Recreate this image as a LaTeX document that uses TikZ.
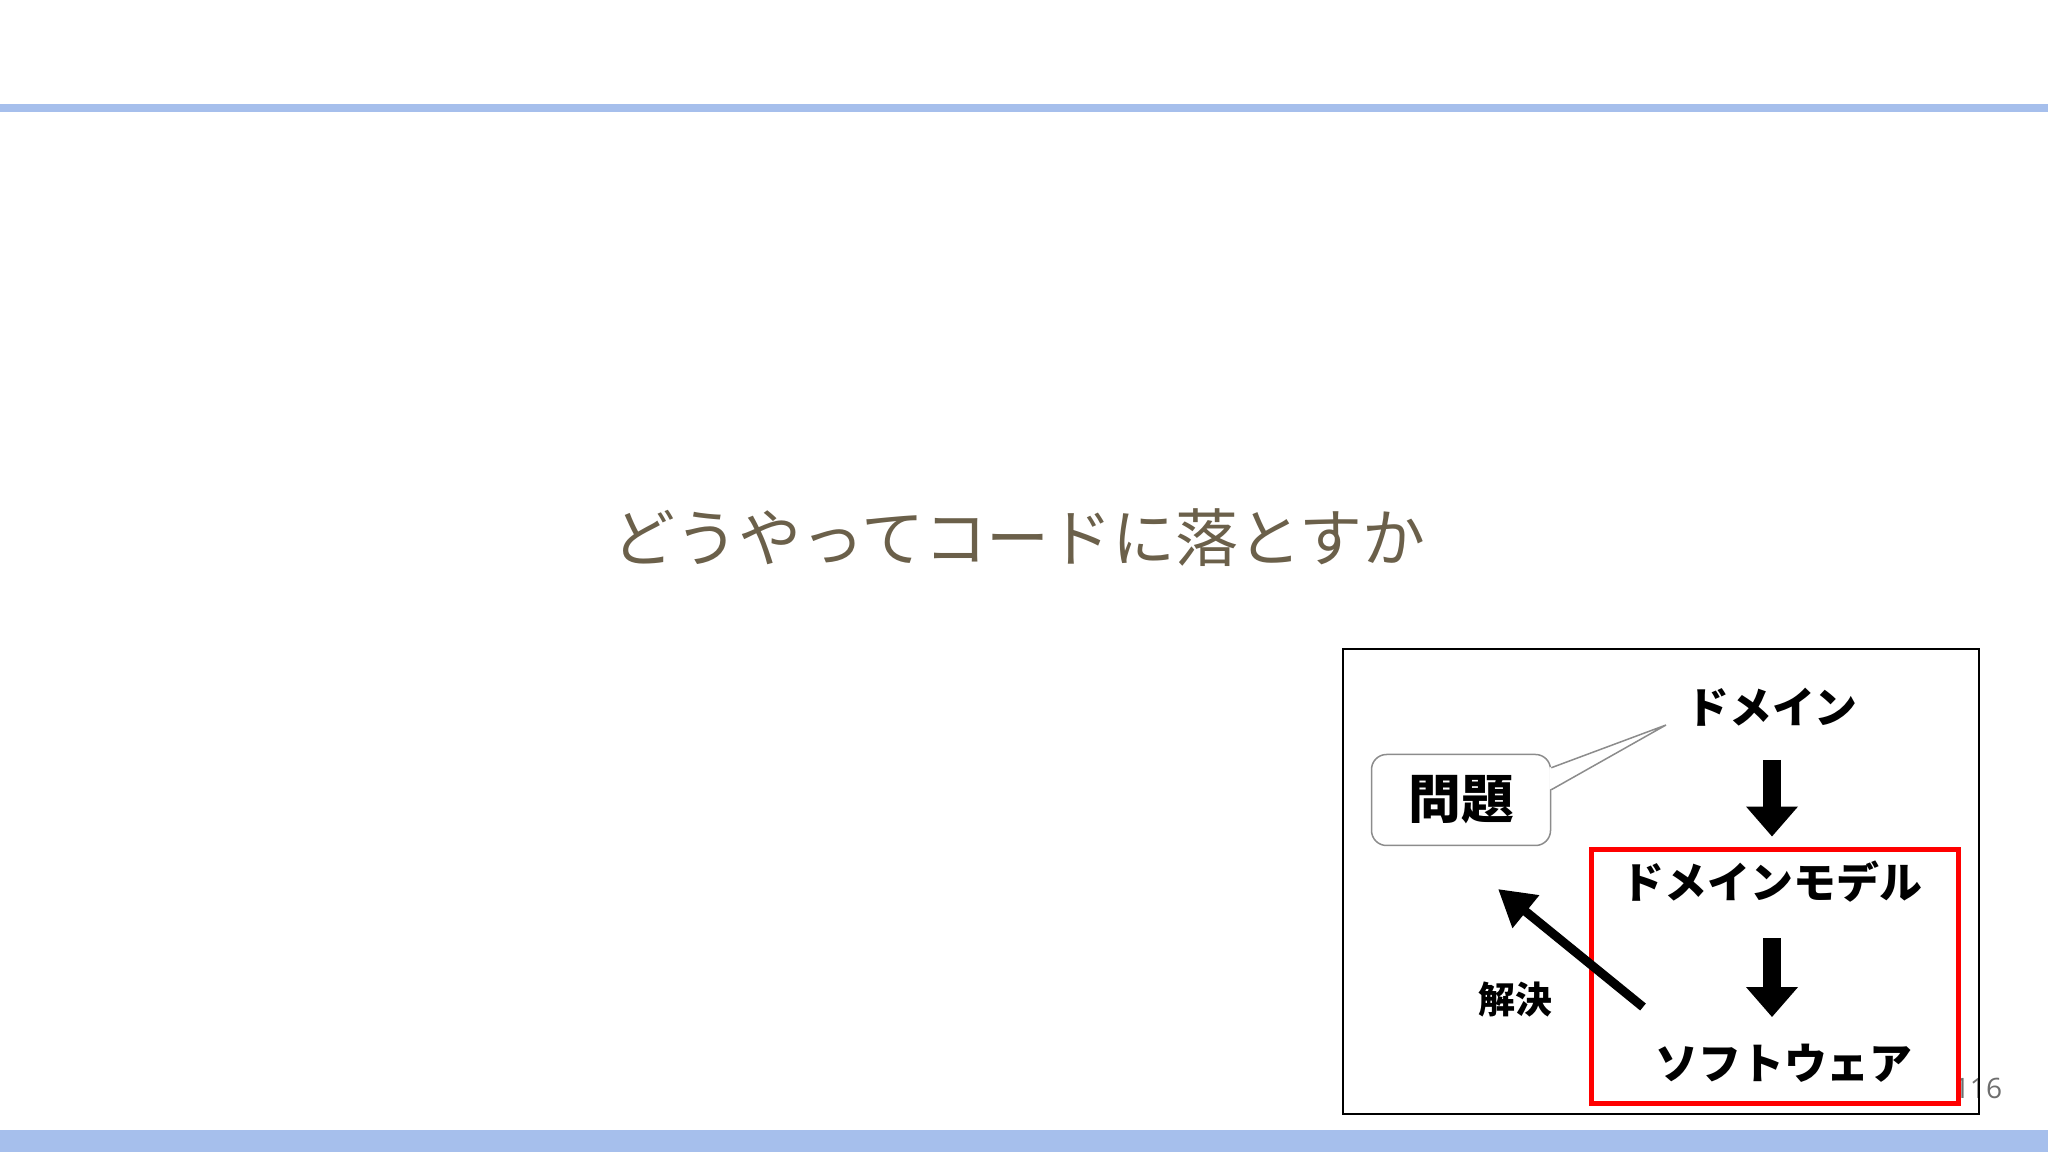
\documentclass[tikz,border=0pt]{standalone}
\usepackage{fontspec}
\usetikzlibrary{arrows.meta,calc}
\newfontfamily\jpfont{Noto Sans CJK JP}
\newfontfamily\numfont{Open Sans}
\definecolor{barblue}{HTML}{A6BFEC}
\definecolor{titlebrown}{HTML}{6B604A}
\definecolor{pagegray}{HTML}{6E6E6E}
\definecolor{callgray}{HTML}{8C8C8C}

\begin{document}
\begin{tikzpicture}
			[x=0.1mm,y=-0.1mm,every node/.style={inner sep=0pt},
			lbl/.style={font=\jpfont\bfseries\fontsize{12.2}{14}\selectfont},
			blk/.style={line width=1.8mm,-{Triangle[width=5mm,length=3mm]}},
			sol/.style={line width=0.9mm,-{Triangle[width=4mm,length=3.6mm]}},
			callline/.style={draw=callgray,line width=0.15mm}]
			\useasboundingbox (0,0) rectangle (2048,1152);
			\fill[barblue] (0,104) rectangle (2048,112);
			\fill[barblue] (0,1130) rectangle (2048,1152);
			
			\node[font=\jpfont\fontsize{17.9}{20}\selectfont,text=titlebrown] (title) at (1019,538) {どうやってコードに落とすか};
			
			\node[font=\numfont\fontsize{8}{9}\selectfont,text=pagegray] (page) at (1978,1088) {116};
			\draw[line width=0.2mm] (1343,649) rectangle (1979,1114);
			
			\node[lbl] (dom) at (1772,707) {ドメイン};
			\node[lbl] (model) at (1772,882) {ドメインモデル};
			\node[lbl] (soft) at (1784,1063) {ソフトウェア};
			\node[callline,rounded corners=1.5mm,minimum width=17.9mm,minimum height=9.1mm,
				font=\jpfont\bfseries\fontsize{15}{17}\selectfont] (prob) at (1461,800) {問題};
			\node[font=\jpfont\bfseries\fontsize{10.5}{12}\selectfont] (solve) at (1515,1000) {解決};
			
			\coordinate (ptr) at (1666,725);
			\fill[white] ($(prob.north east)+(-2,14)$) -- (ptr) -- ($(prob.north east)+(-2,36)$) -- cycle;
			\draw[callline] ($(prob.north east)+(0,14)$) -- (ptr) -- ($(prob.north east)+(0,36)$);
			
			\draw[red,line width=0.5mm] (1591,850) rectangle (1958,1104);
			
			\draw[blk,shorten <=3.3mm,shorten >=2.4mm] (dom.south) -- (dom.south |- model.north);
			\draw[blk,shorten <=3.5mm,shorten >=2.6mm] (model.south) -- (model.south |- soft.north);
			\coordinate (soltail) at (1643,1007);
			\coordinate (soltip) at (1498,889);
			\draw[sol] (soltail) -- (soltip);
\end{tikzpicture}
\end{document}
